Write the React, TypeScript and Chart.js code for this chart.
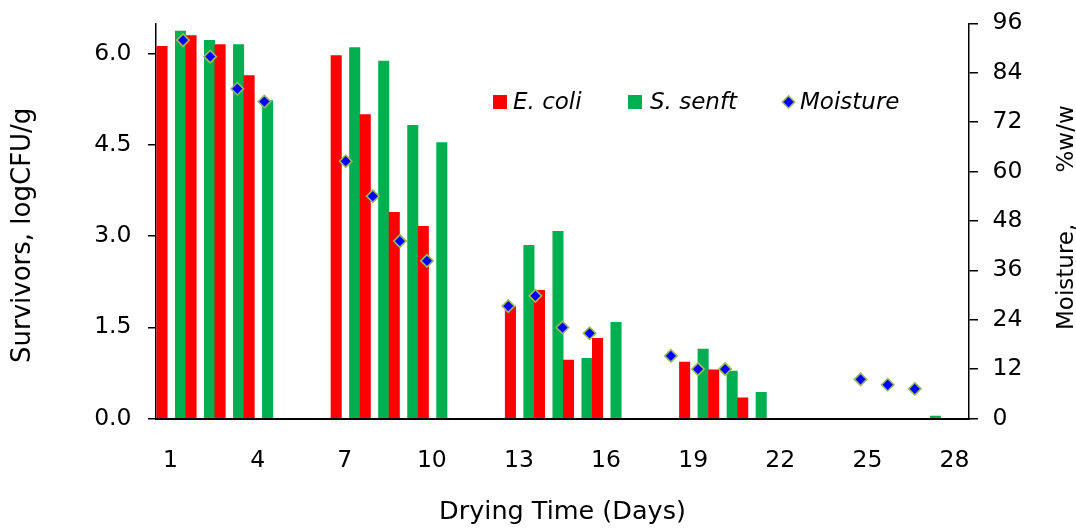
import React, { useEffect, useRef } from 'react';
import { Chart, registerables } from 'chart.js';

Chart.register(...registerables);

// ---------- data ----------
const dayLabels = [
  '1', '2', '3', '4', '5', '6', '7', '8', '9', '10', '11', '12', '13', '14',
  '15', '16', '17', '18', '19', '20', '21', '22', '23', '24', '25', '26', '27', '28',
];
const xTickLabels = ['1', '4', '7', '10', '13', '16', '19', '22', '25', '28'];

const ecoliValues: (number | null)[] = [
  6.12, 6.30, 6.15, 5.64, null, null, 5.97, 5.00, 3.39, 3.16, null, null, 1.84, 2.11,
  0.96, 1.32, null, null, 0.93, 0.80, 0.34, null, null, null, null, null, null, null,
];
const senftValues: (number | null)[] = [
  6.37, 6.22, 6.15, 5.23, null, null, 6.10, 5.88, 4.82, 4.54, null, null, 2.85, 3.08,
  0.99, 1.58, null, null, 1.14, 0.78, 0.43, null, null, null, null, null, 0.04, null,
];
// moisture points sit on a secondary (hidden) position axis running 0..30
const moisturePos = [1, 2, 3, 4, 7, 8, 9, 10, 13, 14, 15, 16, 19, 20, 21, 26, 27, 28];
const moistureValues = [
  91.9, 87.9, 80.1, 77.0, 62.5, 54.0, 43.1, 38.3, 27.3, 29.8, 22.1, 20.7, 15.2, 12.0,
  12.0, 9.5, 8.2, 7.2,
];

const seriesNames = ['E. coli', 'S. senft', 'Moisture'];
const yTitle = 'Survivors, logCFU/g';
const y2Title = 'Moisture,       %w/w';
const xTitle = 'Drying Time (Days)';

// ---------- styles ----------
const RED = '#FF0000';
const GREEN = '#00B050';
const BLUE = '#0000FF';
const OLIVE = '#9BBB59';
const FONT = '"DejaVu Sans", "Liberation Sans", sans-serif';
const BAR_W = 10.4;
const DIAMOND_R = 6.2;
const DIAMOND_BW = 1.6;
// position of each series' bar inside its day slot, as a fraction of the slot
const RED_POS = 6.0 / 29.04;
const GREEN_POS = 24.5 / 29.04;

const toPoints = (vals: (number | null)[]) =>
  vals
    .map((v, i) => ({ x: Number(dayLabels[i]), y: v }))
    .filter((p) => p.y !== null);

const overlayPlugin = {
  id: 'overlayText',
  afterDraw(chart: any) {
    const ctx = chart.ctx as CanvasRenderingContext2D;
    ctx.save();
    ctx.fillStyle = '#000';
    ctx.textBaseline = 'middle';
    ctx.textAlign = 'left';

    // left axis title (reads bottom to top)
    ctx.save();
    ctx.font = `26px ${FONT}`;
    ctx.translate(23, 363);
    ctx.rotate(-Math.PI / 2);
    ctx.fillText(yTitle, 0, 0);
    ctx.restore();

    // right axis title (reads bottom to top)
    ctx.save();
    ctx.font = `23px ${FONT}`;
    ctx.translate(1067, 330);
    ctx.rotate(-Math.PI / 2);
    ctx.fillText(y2Title, 0, 0);
    ctx.restore();

    // legend inside plot
    const ly = 102;
    const itemX = [493, 628, 782];
    ctx.font = `italic 23px ${FONT}`;
    ctx.fillStyle = RED;
    ctx.fillRect(itemX[0], ly - 7, 14, 14);
    ctx.fillStyle = '#000';
    ctx.fillText(seriesNames[0], itemX[0] + 20, ly + 1);
    ctx.fillStyle = GREEN;
    ctx.fillRect(itemX[1], ly - 7, 14, 14);
    ctx.fillStyle = '#000';
    ctx.fillText(seriesNames[1], itemX[1] + 22, ly + 1);
    const cx = itemX[2] + 6.5;
    const r = DIAMOND_R;
    ctx.beginPath();
    ctx.moveTo(cx - r, ly);
    ctx.lineTo(cx, ly - r);
    ctx.lineTo(cx + r, ly);
    ctx.lineTo(cx, ly + r);
    ctx.closePath();
    ctx.fillStyle = BLUE;
    ctx.fill();
    ctx.lineWidth = DIAMOND_BW;
    ctx.strokeStyle = OLIVE;
    ctx.stroke();
    ctx.fillStyle = '#000';
    ctx.fillText(seriesNames[2], itemX[2] + 18, ly + 1);

    ctx.restore();
  },
};

export default function App() {
  const canvasRef = useRef<HTMLCanvasElement | null>(null);

  useEffect(() => {
    document.body.style.margin = '0';
    const canvas = canvasRef.current;
    if (!canvas) return;

    Chart.defaults.font.family = FONT;
    Chart.defaults.color = '#000';

    const nDays = dayLabels.length;

    const chart = new Chart(canvas, {
      type: 'bar',
      data: {
        labels: dayLabels,
        datasets: [
          {
            type: 'scatter',
            label: seriesNames[2],
            data: moisturePos.map((p, i) => ({ x: p, y: moistureValues[i] })),
            xAxisID: 'x2',
            yAxisID: 'y2',
            order: 0,
            pointStyle: 'rectRot',
            pointRadius: DIAMOND_R,
            pointBorderWidth: DIAMOND_BW,
            backgroundColor: BLUE,
            borderColor: OLIVE,
            showLine: false,
            clip: false,
          } as any,
          {
            type: 'bar',
            label: seriesNames[0],
            data: toPoints(ecoliValues),
            backgroundColor: RED,
            xAxisID: 'xr',
            yAxisID: 'y',
            order: 1,
            grouped: false,
            barThickness: BAR_W,
          },
          {
            type: 'bar',
            label: seriesNames[1],
            data: toPoints(senftValues),
            backgroundColor: GREEN,
            xAxisID: 'xg',
            yAxisID: 'y',
            order: 1,
            grouped: false,
            barThickness: BAR_W,
          },
        ],
      },
      options: {
        responsive: false,
        animation: false,
        layout: { autoPadding: false, padding: { top: 23.3, left: 0, right: 0, bottom: 0 } },
        plugins: {
          legend: { display: false },
          tooltip: { enabled: false },
        },
        scales: {
          x: {
            type: 'category',
            position: 'bottom',
            offset: true,
            grid: { display: true, drawOnChartArea: false, drawTicks: false },
            border: { display: true, color: '#000', width: 2 },
            ticks: {
              autoSkip: false,
              maxRotation: 0,
              padding: 28,
              font: { size: 23.5 },
              color: '#000',
              callback: (_v: any, idx: number) =>
                xTickLabels.includes(dayLabels[idx]) ? dayLabels[idx] : '',
            },
            title: {
              display: true,
              text: xTitle,
              color: '#000',
              font: { size: 25.5 },
              padding: { top: 0, bottom: 1 },
            },
            afterFit: (s: any) => {
              s.height = 110.5;
            },
          },
          xr: {
            type: 'linear',
            display: false,
            offset: false,
            bounds: 'data',
            min: 1 - RED_POS,
            max: 1 - RED_POS + nDays,
          },
          xg: {
            type: 'linear',
            display: false,
            offset: false,
            bounds: 'data',
            min: 1 - GREEN_POS,
            max: 1 - GREEN_POS + nDays,
          },
          x2: {
            type: 'linear',
            display: false,
            offset: false,
            min: 0,
            max: 30,
          },
          y: {
            type: 'linear',
            position: 'left',
            min: 0,
            max: 6.5,
            grid: { drawOnChartArea: false, drawTicks: true, tickLength: 8, color: '#000', lineWidth: 1.5 },
            border: { display: true, color: '#000', width: 1.5 },
            ticks: {
              stepSize: 1.5,
              includeBounds: false,
              padding: 16.5,
              font: { size: 23.5 },
              color: '#000',
              callback: (v: any) => Number(v).toFixed(1),
            },
            afterFit: (s: any) => {
              s.width = 156;
              s.paddingTop = 0;
              s.paddingBottom = 0;
            },
          },
          y2: {
            type: 'linear',
            position: 'right',
            min: 0,
            max: 96,
            grid: { drawOnChartArea: false, drawTicks: true, tickLength: 9, color: '#000', lineWidth: 1.5 },
            border: { display: true, color: '#000', width: 1.5 },
            ticks: {
              stepSize: 12,
              padding: 14.5,
              font: { size: 23.5 },
              color: '#000',
            },
            afterFit: (s: any) => {
              s.width = 107;
              s.paddingTop = 0;
              s.paddingBottom = 0;
            },
          },
        },
      } as any,
      plugins: [overlayPlugin],
    });

    return () => {
      chart.destroy();
    };
  }, []);

  return (
    <div style={{ width: 1076, height: 529, position: 'relative', background: '#fff' }}>
      <canvas ref={canvasRef} width={1076} height={529} style={{ display: 'block' }} />
    </div>
  );
}
